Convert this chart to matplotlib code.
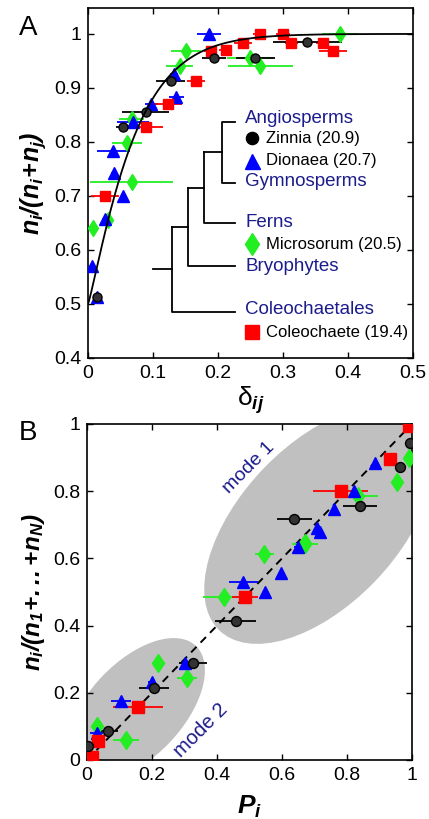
import numpy as np
import matplotlib.pyplot as plt
from matplotlib.patches import Ellipse

plt.rcParams['font.family'] = ['Liberation Sans', 'DejaVu Sans']
plt.rcParams['mathtext.fontset'] = 'custom'
plt.rcParams['mathtext.it'] = 'Liberation Sans:bold:italic'
plt.rcParams['mathtext.rm'] = 'Liberation Sans:bold:italic'
plt.rcParams['mathtext.sf'] = 'Liberation Sans'

# ---- panel A data: pairwise fraction vs delta_ij ----
zin_x = [0.014, 0.054, 0.089, 0.127, 0.194, 0.257, 0.337]
zin_y = [0.513, 0.828, 0.855, 0.913, 0.956, 0.956, 0.985]
zin_e = [0.005, 0.011, 0.036, 0.022, 0.019, 0.030, 0.053]

dio_x = [0.014, 0.006, 0.026, 0.054, 0.040, 0.039, 0.069, 0.097, 0.136, 0.132, 0.186]
dio_y = [0.513, 0.570, 0.657, 0.700, 0.742, 0.783, 0.837, 0.870, 0.884, 0.926, 1.000]
dio_e = [0.004, 0.003, 0.004, 0.004, 0.004, 0.025, 0.025, 0.010, 0.011, 0.006, 0.018]

mic_x = [0.007, 0.031, 0.067, 0.060, 0.067, 0.141, 0.151, 0.249, 0.265, 0.388]
mic_y = [0.641, 0.656, 0.726, 0.798, 0.843, 0.941, 0.969, 0.956, 0.941, 1.000]
mic_e = [0.003, 0.004, 0.064, 0.023, 0.019, 0.021, 0.023, 0.035, 0.050, 0.028]

col_x = [0.026, 0.089, 0.123, 0.166, 0.189, 0.212, 0.238, 0.264, 0.300, 0.313, 0.361, 0.377]
col_y = [0.700, 0.828, 0.870, 0.913, 0.969, 0.970, 0.983, 1.000, 1.000, 0.983, 0.983, 0.969]
col_e = [0.022, 0.027, 0.021, 0.014, 0.010, 0.010, 0.014, 0.010, 0.010, 0.010, 0.010, 0.021]

# fitted curve parameters  y = 1 - 0.5 exp(-(d/d0)^p)
fit_d0 = 0.073
fit_p = 1.15

# ---- panel B data: group fraction vs P_i ----
bz_x = [0.004, 0.066, 0.206, 0.325, 0.457, 0.638, 0.840, 0.963, 0.994]
bz_y = [0.042, 0.086, 0.213, 0.288, 0.415, 0.716, 0.756, 0.873, 0.943]
bz_e = [0.005, 0.028, 0.046, 0.043, 0.064, 0.054, 0.052, 0.005, 0.004]

bd_x = [0.030, 0.104, 0.199, 0.302, 0.481, 0.548, 0.597, 0.648, 0.707, 0.717, 0.760, 0.820, 0.886]
bd_y = [0.081, 0.176, 0.233, 0.290, 0.531, 0.501, 0.558, 0.635, 0.690, 0.680, 0.746, 0.800, 0.885]
bd_e = [0.020, 0.030, 0.010, 0.020, 0.045, 0.005, 0.005, 0.010, 0.005, 0.005, 0.005, 0.005, 0.005]

bm_x = [0.000, 0.032, 0.120, 0.219, 0.307, 0.422, 0.546, 0.671, 0.671, 0.835, 0.955, 0.992]
bm_y = [0.008, 0.101, 0.060, 0.288, 0.243, 0.486, 0.613, 0.643, 0.645, 0.786, 0.828, 0.900]
bm_e = [0.003, 0.005, 0.040, 0.020, 0.031, 0.064, 0.028, 0.041, 0.005, 0.060, 0.005, 0.005]

bc_x = [0.014, 0.035, 0.158, 0.486, 0.780, 0.932, 0.990]
bc_y = [0.010, 0.057, 0.157, 0.486, 0.800, 0.897, 0.995]
bc_e = [0.005, 0.008, 0.077, 0.041, 0.085, 0.005, 0.005]

mode1 = dict(xy=(0.715, 0.70), width=0.88, height=0.48, angle=45)
mode2 = dict(xy=(0.15, 0.15), width=0.53, height=0.286, angle=45)

# ---- phylogeny drawn inside panel A ----
tree_lines = [
    ([0.226, 0.206, 0.206, 0.226], [0.837, 0.837, 0.724, 0.724]),
    ([0.206, 0.178], [0.781, 0.781]),
    ([0.178, 0.178, 0.226], [0.781, 0.650, 0.650]),
    ([0.178, 0.154], [0.715, 0.715]),
    ([0.154, 0.154, 0.226], [0.715, 0.570, 0.570]),
    ([0.154, 0.129], [0.643, 0.643]),
    ([0.129, 0.129, 0.226], [0.643, 0.485, 0.485]),
    ([0.129, 0.100], [0.565, 0.565]),
]
clade_names = ['Angiosperms', 'Gymnosperms', 'Ferns', 'Bryophytes', 'Coleochaetales']
clade_y = [0.843, 0.726, 0.650, 0.570, 0.489]
species_names = ['Zinnia (20.9)', 'Dionaea (20.7)', 'Microsorum (20.5)', 'Coleochaete (19.4)']
species_y = [0.807, 0.765, 0.611, 0.448]

navy = '#1c1c8c'
green = '#22ee22'
styles = [  # (marker, colour, size)
    ('d', green, 8.5),
    ('^', 'blue', 8),
    ('s', 'red', 7.5),
    ('o', 'black', 6.5),
]

fig = plt.figure(figsize=(4.29, 8.19), dpi=100)
axA = fig.add_axes([88/429, 1-358/819, 325/429, 350/819])
axB = fig.add_axes([87/429, 1-760/819, 325/429, 336/819])


def draw_series(ax, x, y, e, st, ms_scale=1.0):
    m, c, ms = st
    face = '#333333' if c == 'black' else c
    ax.errorbar(x, y, xerr=e, fmt=m, color=c, ecolor=c, elinewidth=1.3,
                capsize=0, ms=ms*ms_scale, mfc=face, mec=c, mew=1.0, zorder=3)


# panel A
d = np.linspace(0, 0.5, 300)
axA.plot(d, 1 - 0.5*np.exp(-(d/fit_d0)**fit_p), color='black', lw=1.3, zorder=4)
for (xs, ys, es), st in zip([(mic_x, mic_y, mic_e), (dio_x, dio_y, dio_e),
                             (col_x, col_y, col_e), (zin_x, zin_y, zin_e)], styles):
    draw_series(axA, xs, ys, es, st)

for xs, ys in tree_lines:
    axA.plot(xs, ys, color='black', lw=1.3, zorder=2)
for name, yy in zip(clade_names, clade_y):
    axA.text(0.242, yy, name, color=navy, fontsize=13.5, va='center', ha='left')
for name, yy, st in zip(species_names, species_y, [styles[3], styles[1], styles[0], styles[2]]):
    m, c, ms = st
    axA.plot([0.253], [yy], marker=m, color=c, ms=ms*1.35, mec=c, ls='none')
    axA.text(0.274, yy, name, color='black', fontsize=12, va='center', ha='left')

axA.set_xlim(0, 0.5)
axA.set_ylim(0.4, 1.048)
axA.set_xticks([0, 0.1, 0.2, 0.3, 0.4, 0.5])
axA.set_xticklabels(['0', '0.1', '0.2', '0.3', '0.4', '0.5'])
axA.set_yticks([0.4, 0.5, 0.6, 0.7, 0.8, 0.9, 1.0])
axA.set_yticklabels(['0.4', '0.5', '0.6', '0.7', '0.8', '0.9', '1'])
axA.set_xlabel(r'$\mathsf{δ}_{ij}$', fontsize=19, labelpad=2)
axA.set_ylabel(r'$n_i/(n_i\!+\!n_j)$', fontsize=18, labelpad=4)

# panel B
for spec in (mode1, mode2):
    axB.add_patch(Ellipse(facecolor='#c0c0c0', edgecolor='none', zorder=0, **spec))
axB.plot([0, 1], [0, 1], color='black', ls=(0, (4, 3)), lw=1.4, zorder=2)
for (xs, ys, es), st in zip([(bm_x, bm_y, bm_e), (bd_x, bd_y, bd_e),
                             (bc_x, bc_y, bc_e), (bz_x, bz_y, bz_e)], styles):
    draw_series(axB, xs, ys, es, st, 1.1)
axB.text(0.497, 0.87, 'mode 1', color=navy, fontsize=14, rotation=45,
         ha='center', va='center')
axB.text(0.351, 0.089, 'mode 2', color=navy, fontsize=14.5, rotation=45,
         ha='center', va='center')
axB.set_xlim(0, 1)
axB.set_ylim(0, 1)
ticks = [0, 0.2, 0.4, 0.6, 0.8, 1.0]
labels = ['0', '0.2', '0.4', '0.6', '0.8', '1']
axB.set_xticks(ticks)
axB.set_xticklabels(labels)
axB.set_yticks(ticks)
axB.set_yticklabels(labels)
axB.set_xlabel(r'$P_i$', fontsize=19, labelpad=7)
axB.set_ylabel(r'$n_i/(n_1\!+\!..\!.\!+\!n_N)$', fontsize=17.5, labelpad=4)

for ax in (axA, axB):
    ax.tick_params(direction='in', top=True, right=True, length=4, width=1,
                   labelsize=14, pad=5)
    for s in ax.spines.values():
        s.set_linewidth(1.2)

fig.text(28/429, 1-28/819, 'A', fontsize=20, ha='center', va='center')
fig.text(28/429, 1-433/819, 'B', fontsize=20, ha='center', va='center')

fig.savefig('out.png', dpi=100)
